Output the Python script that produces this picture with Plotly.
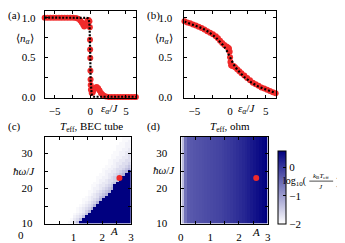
import plotly.graph_objects as go

W, H = 345, 243
RED = "#f02a2a"
FONT = "Liberation Serif, Times New Roman, serif"

# ---------------- panel (a) data ----------------
a_red_x = [-6.4, -6.0, -5.6, -5.2, -4.8, -4.4, -4.0, -3.6, -3.2, -2.8, -2.4,
           -2.0, -1.7, -1.4, -1.2, -1.0, -0.85, -0.7, -0.55, -0.4, -0.25, -0.12,
           -0.06, -0.04, -0.02, 0.0, 0.02, 0.04, 0.06, 0.09,
           0.2, 0.35, 0.5, 0.7, 0.9, 1.1, 1.3, 1.5, 1.7, 1.9, 2.2, 2.6,
           3.0, 3.4, 3.8, 4.2, 4.6, 5.0, 5.4, 5.8, 6.2, 6.4]
a_red_y = [1.0, 1.0, 1.0, 1.0, 1.0, 1.0, 1.0, 1.0, 1.0, 1.0, 1.0,
           0.995, 0.985, 0.965, 0.94, 0.91, 0.89, 0.9, 0.93, 0.96, 0.97, 0.955,
           0.88, 0.72, 0.6, 0.49, 0.33, 0.22, 0.15, 0.09,
           0.05, 0.06, 0.09, 0.115, 0.125, 0.11, 0.08, 0.05, 0.03, 0.015, 0.005, 0.0,
           0.0, 0.0, 0.0, 0.0, 0.0, 0.0, 0.0, 0.0, 0.0, 0.0]
a_black_x = [-6.4, -1.0, -0.5, -0.3, -0.2, -0.1, -0.05, 0.0, 0.05, 0.1, 0.2, 0.3, 0.5, 6.4]
a_black_y = [1.0, 1.0, 0.998, 0.99, 0.97, 0.9, 0.8, 0.5, 0.2, 0.1, 0.03, 0.01, 0.002, 0.0]

# ---------------- panel (b) data ----------------
b_red_x = [-6.4, -6.0, -5.6, -5.2, -4.8, -4.4, -4.0, -3.6, -3.2, -2.8, -2.4, -2.0,
           -1.7, -1.4, -1.1, -0.8, -0.5, -0.3, -0.15, -0.05, 0.0, 0.05, 0.15, 0.3,
           0.5, 0.7, 1.0, 1.3, 1.6, 2.0, 2.4, 2.8, 3.2, 3.6, 4.0, 4.4, 4.8, 5.2,
           5.6, 6.0, 6.4]
b_red_y = [0.955, 0.94, 0.93, 0.915, 0.9, 0.885, 0.87, 0.85, 0.83, 0.81, 0.79, 0.765,
           0.74, 0.71, 0.68, 0.655, 0.635, 0.625, 0.61, 0.57, 0.5, 0.44, 0.4, 0.39,
           0.39, 0.375, 0.35, 0.325, 0.3, 0.27, 0.24, 0.21, 0.18, 0.16, 0.14, 0.12,
           0.105, 0.09, 0.075, 0.06, 0.045]
b_black_x = [-6.4, -5, -4, -3, -2, -1, -0.5, 0, 0.5, 1, 2, 3, 4, 5, 6.4]
b_black_y = [0.95, 0.905, 0.87, 0.82, 0.75, 0.655, 0.59, 0.5, 0.41, 0.345, 0.25,
             0.18, 0.13, 0.095, 0.05]

n_ticks = [0, 0.25, 0.5, 0.75, 1.0]
n_ticktext = ["0.0", "", "0.5", "", "1.0"]
eps_ticks = [-5, -2.5, 0, 2.5, 5]
eps_ticktext = ["\u22125", "", "0", "", "5"]

# ---------------- panels (c), (d) data ----------------
A_grid = [round(0.05 + 0.1 * k, 2) for k in range(30)]          # cell centres in A
hw_grid = [round(34.4 - 0.8 * i, 1) for i in range(31)]        # cell centres in hbar*omega/J (top -> bottom)

# BEC tube: quantised colour levels per cell, one string per row (top row first)
bec_levels = [-2.0, -1.94, -1.87, -1.78, -1.67, -1.55, -1.4, -1.25, -1.05, 0.55]
bec_rows = [
    "0" * 27 + "111",
    "0" * 27 + "112",
    "0" * 26 + "1122",
    "0" * 25 + "11122",
    "0" * 25 + "11223",
    "0" * 24 + "112233",
    "0" * 23 + "1112234",
    "0" * 23 + "1122334",
    "0" * 22 + "11223344",
    "0" * 22 + "11233445",
    "0" * 21 + "112234456",
    "0" * 20 + "1122344567",
    "0" * 20 + "1223345679",
    "0" * 19 + "11233456799",
    "0" * 18 + "112234557" + "9" * 3,
    "0" * 18 + "12234456" + "9" * 4,
    "0" * 17 + "11233456" + "9" * 5,
    "0" * 16 + "11233456" + "9" * 6,
    "0" * 16 + "12234567" + "9" * 6,
    "0" * 15 + "11234567" + "9" * 7,
    "0" * 15 + "1234567" + "9" * 8,
    "0" * 14 + "1233467" + "9" * 9,
    "0" * 13 + "1123457" + "9" * 10,
    "0" * 13 + "123457" + "9" * 11,
    "0" * 12 + "123457" + "9" * 12,
    "0" * 11 + "123457" + "9" * 13,
    "0" * 11 + "12357" + "9" * 14,
    "0" * 10 + "12346" + "9" * 15,
    "0" * 10 + "2346" + "9" * 16,
    "0" * 9 + "1346" + "9" * 17,
    "0" * 8 + "1246" + "9" * 18,
]
assert all(len(r) == 30 for r in bec_rows)
bec_z = [[bec_levels[int(ch)] for ch in row] for row in bec_rows]

# ohmic bath: value per A column (no visible dependence on hbar*omega)
ohm_cols = [-1.35, -0.6, -0.36, -0.33, -0.3, -0.28, -0.26, -0.24, -0.22, -0.2,
            -0.18, -0.16, -0.14, -0.12, -0.09, -0.06, -0.03, 0.0, 0.04, 0.08,
            0.12, 0.16, 0.2, 0.25, 0.3, 0.35, 0.4, 0.45, 0.5, 0.55]
ohm_z = [list(ohm_cols) for _ in hw_grid]

marker_A = [2.6]
marker_hw = [23.0]

A_ticks = [0, 0.5, 1, 1.5, 2, 2.5, 3]
A_ticktext = ["", "", "1", "", "2", "", "3"]
hw_ticks = [10, 15, 20, 25, 30]
hw_ticktext = ["10", "", "20", "", "30"]
cbar_ticks = [-2, -1, 0]
cbar_ticktext = ["\u22122", "\u22121", "0"]


def px(x):
    return x / W


def py(y):
    return 1 - y / H


fig = go.Figure()

# (a)
fig.add_trace(go.Scatter(x=a_red_x, y=a_red_y, mode="markers",
                         marker=dict(color=RED, size=6, line=dict(width=0)),
                         cliponaxis=False, xaxis="x", yaxis="y"))
fig.add_trace(go.Scatter(x=a_black_x, y=a_black_y, mode="lines",
                         line=dict(color="black", width=2.2, dash="2px,1.5px"),
                         xaxis="x", yaxis="y"))
# (b)
fig.add_trace(go.Scatter(x=b_red_x, y=b_red_y, mode="markers",
                         marker=dict(color=RED, size=6, line=dict(width=0)),
                         cliponaxis=False, xaxis="x2", yaxis="y2"))
fig.add_trace(go.Scatter(x=b_black_x, y=b_black_y, mode="lines",
                         line=dict(color="black", width=2.2, dash="2px,2px"),
                         xaxis="x2", yaxis="y2"))
# (c)
fig.add_trace(go.Heatmap(x=A_grid, y=hw_grid, z=bec_z, coloraxis="coloraxis",
                         xaxis="x3", yaxis="y3"))
fig.add_trace(go.Scatter(x=marker_A, y=marker_hw, mode="markers",
                         marker=dict(color=RED, size=6), xaxis="x3", yaxis="y3"))
# (d)
fig.add_trace(go.Heatmap(x=A_grid, y=hw_grid, z=ohm_z, coloraxis="coloraxis",
                         xaxis="x4", yaxis="y4"))
fig.add_trace(go.Scatter(x=marker_A, y=marker_hw, mode="markers",
                         marker=dict(color=RED, size=6), xaxis="x4", yaxis="y4"))

common = dict(showline=True, linecolor="black", linewidth=1, mirror="ticks",
              ticks="inside", ticklen=3, tickcolor="black", tickwidth=1,
              showgrid=False, zeroline=False,
              tickfont=dict(family=FONT, size=11, color="black"))

fig.update_layout(
    width=W, height=H, margin=dict(l=0, r=0, t=0, b=0),
    paper_bgcolor="white", plot_bgcolor="white", showlegend=False,
    font=dict(family=FONT, size=11, color="black"),
    xaxis=dict(common, domain=[px(37), px(129)], range=[-6.4, 6.4], anchor="y",
               tickvals=eps_ticks, ticktext=eps_ticktext, ticklabelstandoff=3),
    yaxis=dict(common, domain=[py(92), py(3)], range=[-0.01, 1.085], anchor="x",
               tickvals=n_ticks, ticktext=n_ticktext, ticklabelstandoff=6),
    xaxis2=dict(common, domain=[px(178), px(270)], range=[-6.4, 6.4], anchor="y2",
                tickvals=eps_ticks, ticktext=eps_ticktext, ticklabelstandoff=3),
    yaxis2=dict(common, domain=[py(92), py(3)], range=[-0.01, 1.085], anchor="x2",
                tickvals=n_ticks, ticktext=n_ticktext, ticklabelstandoff=9),
    xaxis3=dict(common, domain=[px(37), px(124)], range=[0, 3], anchor="y3",
                tickvals=A_ticks, ticktext=A_ticktext, ticklabelstandoff=3),
    yaxis3=dict(common, domain=[py(221), py(132)], range=[10, 34.8], anchor="x3",
                tickvals=hw_ticks, ticktext=hw_ticktext, ticklabelstandoff=9),
    xaxis4=dict(common, domain=[px(175), px(262)], range=[0, 3], anchor="y4",
                tickvals=A_ticks, ticktext=A_ticktext, ticklabelstandoff=3),
    yaxis4=dict(common, domain=[py(221), py(132)], range=[10, 34.8], anchor="x4",
                tickvals=hw_ticks, ticktext=hw_ticktext, ticklabelstandoff=11),
    coloraxis=dict(
        cmin=-2, cmax=0.55,
        colorscale=[[0, "#ffffff"], [1, "#000080"]],
        colorbar=dict(x=px(272), xanchor="left", xref="paper",
                      y=py(184.5), yanchor="middle", yref="paper",
                      thickness=8, thicknessmode="pixels",
                      len=73, lenmode="pixels",
                      outlinewidth=1, outlinecolor="black",
                      ticks="inside", ticklen=3, tickcolor="black",
                      tickvals=cbar_ticks, ticktext=cbar_ticktext,
                      tickfont=dict(family=FONT, size=11, color="black"),
                      xpad=0, ypad=0, ticklabelposition="outside"),
    ),
)


def ann(text, x, y, size=11, xanchor="center"):
    fig.add_annotation(text=text, x=px(x), y=py(y), xref="paper", yref="paper",
                       showarrow=False, xanchor=xanchor, yanchor="middle",
                       borderpad=0,
                       font=dict(family=FONT, size=size, color="black"))


# panel labels
ann("(a)", 7, 8)
ann("(b)", 147, 8)
ann("(c)", 7, 121)
ann("(d)", 147, 121)
# axis titles
ann("\u27e8<i>n</i><sub><i>\u03b1</i></sub>\u27e9", 17, 32)
ann("\u27e8<i>n</i><sub><i>\u03b1</i></sub>\u27e9", 157, 32)
ann("<i>\u03b5</i><sub><i>\u03b1</i></sub>/<i>J</i>", 102, 104)
ann("<i>\u03b5</i><sub><i>\u03b1</i></sub>/<i>J</i>", 241, 104)
ann("<i>\u0127\u03c9</i>/<i>J</i>", 16, 167)
ann("<i>\u0127\u03c9</i>/<i>J</i>", 157, 166)
ann("<i>A</i>", 107, 229)
ann("<i>A</i>", 250, 230)
ann("0", 13, 233)
ann("0", 175, 235)
# heatmap titles
ann("<i>T</i><sub>eff</sub>, BEC tube", 84, 122)
ann("<i>T</i><sub>eff</sub>, ohm", 224, 122)
# colorbar label: log10( kB Teff / J ) with a stacked fraction
ann("log<sub>10</sub>(", 276, 178, size=10, xanchor="left")
ann("<i>k</i><sub>B</sub><i>T</i><sub>eff</sub>", 316, 172, size=7)
ann("<i>J</i>", 316, 183.5, size=7)
ann(")", 333, 178, size=11)
fig.add_shape(type="line", xref="paper", yref="paper",
              x0=px(304), x1=px(328), y0=py(177.5), y1=py(177.5),
              line=dict(color="black", width=0.7))

fig.write_html("out.html")
